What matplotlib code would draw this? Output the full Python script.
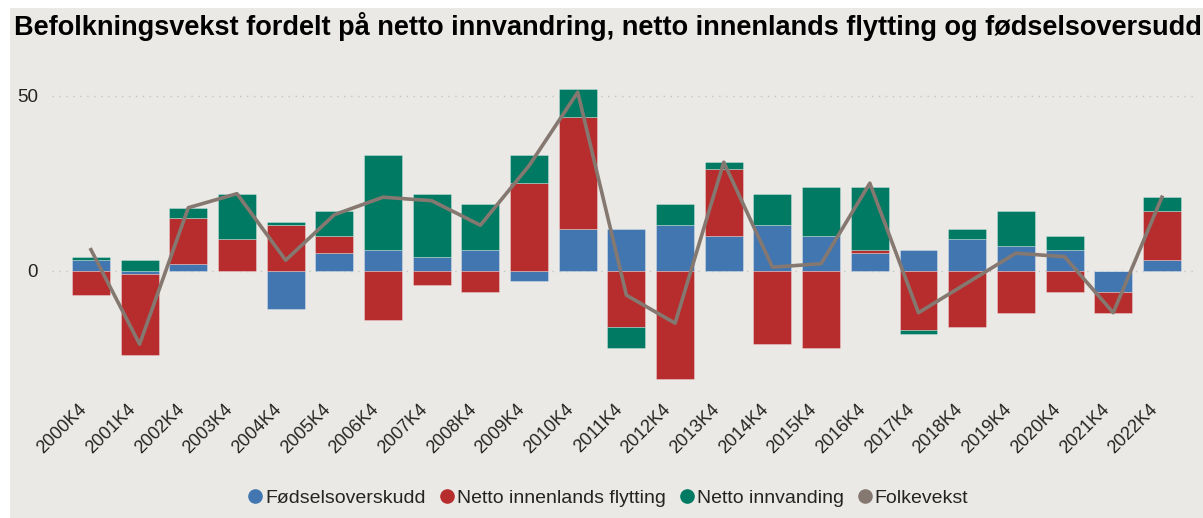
import numpy as np
import matplotlib.pyplot as plt
from matplotlib.lines import Line2D
from matplotlib.patches import Rectangle

plt.rcParams['font.family'] = ['Liberation Sans', 'DejaVu Sans']

# data
kvartal = ['2000K4', '2001K4', '2002K4', '2003K4', '2004K4', '2005K4', '2006K4', '2007K4',
           '2008K4', '2009K4', '2010K4', '2011K4', '2012K4', '2013K4', '2014K4', '2015K4',
           '2016K4', '2017K4', '2018K4', '2019K4', '2020K4', '2021K4', '2022K4']
fodselsoverskudd = [3, -1, 2, 0, -11, 5, 6, 4, 6, -3, 12, 12, 13, 10, 13, 10, 5, 6, 9, 7, 6, -6, 3]
innenlands = [-7, -23, 13, 9, 13, 5, -14, -4, -6, 25, 32, -16, -31, 19, -21, -22, 1, -17, -16, -12, -6, -6, 14]
innvandring = [1, 3, 3, 13, 1, 7, 27, 18, 13, 8, 8, -6, 6, 2, 9, 14, 18, -1, 3, 10, 4, 0, 4]
folkevekst = [6, -21, 18, 22, 3, 16, 21, 20, 13, 30, 51, -7, -15, 31, 1, 2, 25, -12, -3.5, 5, 4, -12, 21]

serier = [('Fødselsoverskudd', fodselsoverskudd, '#4276B0'),
          ('Netto innenlands flytting', innenlands, '#B72D2D'),
          ('Netto innvanding', innvandring, '#007A63')]
linjefarge = '#857870'
bakgrunn = '#EAE9E5'

W, H = 1203, 518
fig = plt.figure(figsize=(W / 100, H / 100), dpi=100)
fig.patch.set_facecolor('white')
fig.add_artist(Rectangle((10 / W, 0), 1 - 10 / W, 1 - 8 / H, transform=fig.transFigure,
                         facecolor=bakgrunn, edgecolor='none', zorder=-10))

fig.text(14 / W, 1 - 35 / H, 'Befolkningsvekst fordelt på netto innvandring, netto innenlands flytting og fødselsoversudd',
         fontsize=19.5, fontweight='bold', ha='left', va='baseline', color='black')

ax = fig.add_axes([52 / W, 1 - 390 / H, (1195 - 52) / W, (390 - 60) / H])
ax.set_facecolor('none')

x = np.arange(len(kvartal))
pos_bunn = np.zeros(len(x))
neg_bunn = np.zeros(len(x))
for navn, verdier, farge in serier:
    v = np.array(verdier, dtype=float)
    bunn = np.where(v >= 0, pos_bunn, neg_bunn)
    ax.bar(x, v, bottom=bunn, width=0.78, color=farge, edgecolor=(1, 1, 1, 0.35),
           linewidth=0.6, zorder=2)
    pos_bunn += np.where(v >= 0, v, 0)
    neg_bunn += np.where(v < 0, v, 0)

ax.plot(x, folkevekst, color=linjefarge, linewidth=2.6, zorder=3)

ax.set_xlim(-0.8, 22.68)
ax.set_ylim((270.7 - 390) / 3.5, (270.7 - 60) / 3.5)
ax.set_yticks([0, 50])
ax.yaxis.grid(True, linestyle=(0, (1, 4)), color='#C4C4C4', linewidth=1, zorder=0)
ax.set_xticks(x - 0.14)
ax.set_xticklabels(kvartal, rotation=45, ha='right', va='center', rotation_mode='anchor')
ax.tick_params(axis='x', length=0, pad=12, labelsize=13, labelcolor='#252423')
ax.tick_params(axis='y', length=0, pad=10, labelsize=13.5, labelcolor='#252423')
for s in ax.spines.values():
    s.set_visible(False)

handles = [Line2D([], [], marker='o', linestyle='none', markersize=9.5, color=f) for _, _, f in serier]
handles.append(Line2D([], [], marker='o', linestyle='none', markersize=9.5, color=linjefarge))
labels = [n for n, _, _ in serier] + ['Folkevekst']
fig.legend(handles, labels, loc='center', bbox_to_anchor=(607 / W, 1 - 498 / H), ncol=4,
           frameon=False, fontsize=14, handletextpad=0.0, columnspacing=0.6,
           labelcolor='#252423', handlelength=1.0)

fig.savefig('out.png', dpi=100, facecolor=fig.get_facecolor())
